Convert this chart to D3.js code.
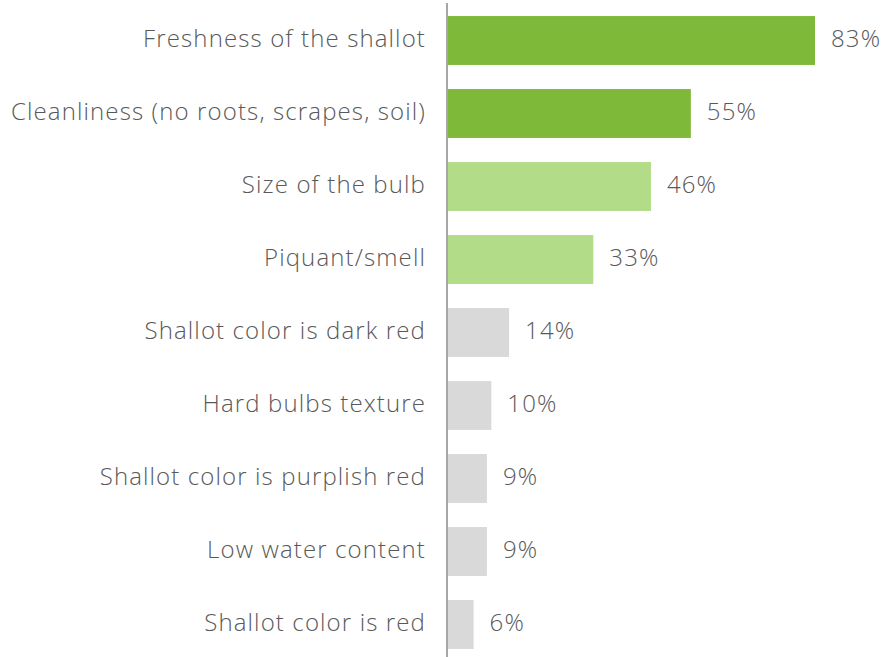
<!DOCTYPE html>
<html>
<head>
<meta charset="utf-8">
<script src="https://cdn.jsdelivr.net/npm/d3@7"></script>
<style>
  html, body { margin: 0; padding: 0; background: #fff; }
  svg text { font-family: "Open Sans", sans-serif; font-weight: 300; fill: #595959; }
</style>
</head>
<body>
<svg id="chart"></svg>
<script>
"use strict";

// data
var categories = [
    "Freshness of the shallot",
    "Cleanliness (no roots, scrapes, soil)",
    "Size of the bulb",
    "Piquant/smell",
    "Shallot color is dark red",
    "Hard bulbs texture",
    "Shallot color is purplish red",
    "Low water content",
    "Shallot color is red"
];
var values = [83, 55, 46, 33, 14, 10, 9, 9, 6];
var groups = ["top", "top", "mid", "mid", "low", "low", "low", "low", "low"];

var iWidth = 885;
var iHeight = 657;
var xAxisAt = 447;
var sFontSize = "24px";

var colors = { top: "#7fb93a", mid: "#b3dc88", low: "#d9d9d9" };

var svg = d3.select("#chart")
    .attr("width", iWidth)
    .attr("height", iHeight);

// scales
var xScale = d3.scaleLinear()
    .domain([0, 83])
    .range([xAxisAt, 815]);

var yScale = d3.scaleBand()
    .domain(categories)
    .range([4, 661])
    .paddingInner(0.33)
    .paddingOuter(0.165);

// bars
svg.selectAll("rect.bar")
    .data(values)
    .enter()
    .append("rect")
    .attr("class", "bar")
    .attr("x", xScale(0))
    .attr("y", (d, i) => yScale(categories[i]))
    .attr("width", d => xScale(d) - xScale(0))
    .attr("height", yScale.bandwidth())
    .attr("fill", (d, i) => colors[groups[i]]);

// value labels
svg.selectAll("text.val")
    .data(values)
    .enter()
    .append("text")
    .attr("class", "val")
    .attr("x", d => xScale(d) + 16)
    .attr("y", (d, i) => yScale(categories[i]) + yScale.bandwidth() / 2)
    .attr("dy", "0.28em")
    .style("font-size", sFontSize)
    .text(d => d + "%");

// axis with category labels
var axis = svg.append("g")
    .attr("transform", `translate(${xAxisAt}, 0)`)
    .call(d3.axisLeft(yScale).tickSize(0).tickPadding(21));

axis.select(".domain")
    .attr("d", `M0,3V${iHeight}`)
    .attr("stroke", "#a6a6a6")
    .attr("stroke-width", 2);

axis.selectAll(".tick text")
    .attr("dy", "0.28em")
    .style("font-size", sFontSize)
    .style("font-family", "'Open Sans', sans-serif")
    .style("font-weight", 300)
    .attr("fill", "#595959");

// century-gothic-like width: stretch spacing so the longest label spans ~415px
var oLongest = axis.selectAll(".tick text").filter(d => d === categories[1]).node();
var fSpacing = (415 - oLongest.getComputedTextLength()) / categories[1].length;
axis.selectAll(".tick text").style("letter-spacing", fSpacing + "px");
svg.selectAll("text.val").style("letter-spacing", fSpacing + "px");
</script>
</body>
</html>
